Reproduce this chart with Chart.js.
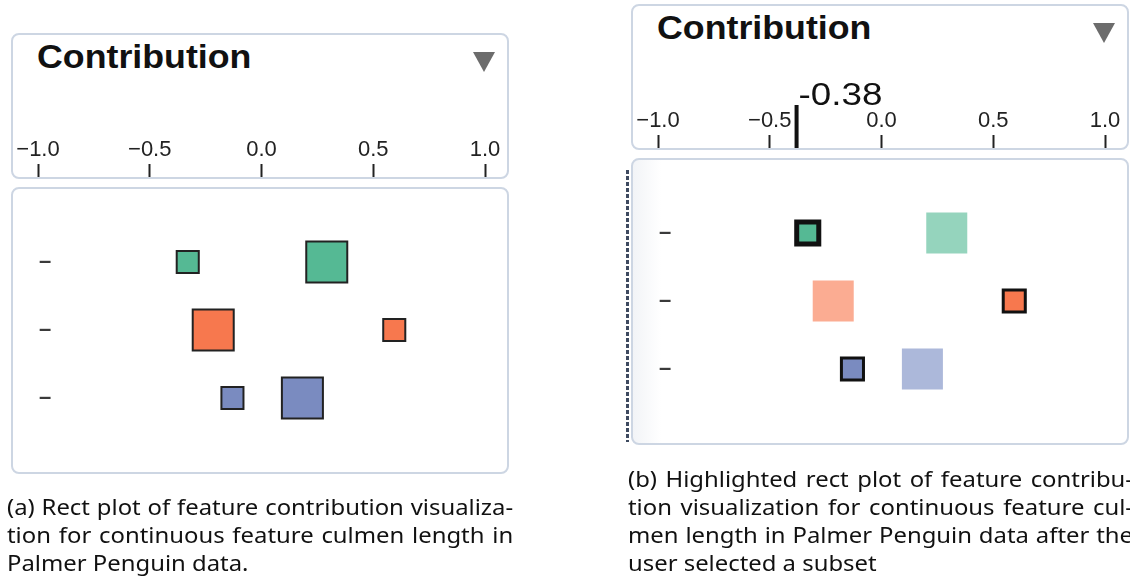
<!DOCTYPE html>
<html>
<head>
<meta charset="utf-8">
<script src="https://cdn.jsdelivr.net/npm/chart.js@4"></script>
<style>
    html, body {
        margin: 0;
        padding: 0;
        width: 1130px;
        height: 578px;
        overflow: hidden;
        background: #ffffff;
    }

    .panel {
        position: absolute;
        width: 498px;
        height: 480px;
    }

    .box {
        position: absolute;
        box-sizing: border-box;
        border: 2px solid #cdd6e3;
        border-radius: 8px;
        background: #ffffff;
    }

    .header-box {
        left: 0;
        top: 0;
        width: 498px;
        height: 146px;
    }

    .plot-box {
        left: 0;
        top: 154px;
        width: 498px;
        height: 287px;
    }

    .title {
        position: absolute;
        left: 26px;
        top: 8px;
        font-family: "Liberation Sans", Arial, sans-serif;
        font-weight: bold;
        font-size: 32.5px;
        line-height: 33px;
        color: #111111;
        transform: scaleX(1.1);
        transform-origin: left top;
    }

    .dropdown {
        position: absolute;
        left: 462px;
        top: 19px;
        width: 0;
        height: 0;
        border-left: 11.5px solid transparent;
        border-right: 11.5px solid transparent;
        border-top: 20px solid #6c6c6c;
    }

    .panel canvas {
        position: absolute;
        left: 0;
        top: 0;
    }

    .selection-edge {
        position: absolute;
        left: -5px;
        top: 166px;
        width: 3px;
        height: 272px;
        background: repeating-linear-gradient(to bottom, #3e4a60 0px, #3e4a60 4px, transparent 4px, transparent 6px);
    }

    .faded-edge {
        background: linear-gradient(to right, #f2f4f7 0px, #ffffff 28px);
    }

    .caption {
        position: absolute;
        width: 456px;
        font-family: "Noto Sans", sans-serif;
        font-size: 21.5px;
        line-height: 28px;
        color: #111111;
        transform: scaleX(1.11);
        transform-origin: left top;
    }

    .caption div {
        white-space: nowrap;
        text-align: justify;
        text-align-last: justify;
    }

    .caption div.last {
        text-align-last: left;
    }
</style>
</head>
<body>

<div class="panel" id="panelA" style="left: 11px; top: 33px;">
    <div class="box header-box"></div>
    <div class="box plot-box"></div>
    <div class="title">Contribution</div>
    <div class="dropdown"></div>
    <canvas id="chartA" width="498" height="470"></canvas>
</div>

<div class="panel" id="panelB" style="left: 631px; top: 4px;">
    <div class="box header-box"></div>
    <div class="box plot-box faded-edge"></div>
    <div class="selection-edge"></div>
    <div class="title">Contribution</div>
    <div class="dropdown"></div>
    <canvas id="chartB" width="498" height="470"></canvas>
</div>

<div class="caption" style="left: 7px; top: 493px;">
    <div>(a) Rect plot of feature contribution visualiza-</div>
    <div>tion for continuous feature culmen length in</div>
    <div class="last">Palmer Penguin data.</div>
</div>

<div class="caption" style="left: 628px; top: 465px; width: 455px;">
    <div>(b) Highlighted rect plot of feature contribu-</div>
    <div>tion visualization for continuous feature cul-</div>
    <div>men length in Palmer Penguin data after the</div>
    <div class="last">user selected a subset</div>
</div>

<script>
// one row per class
const rowLabels = ['–', '–', '–'];
const rowIndex = [1, 2, 3];
const subsetValues = [-0.33, 0.594, -0.13];   // small squares
const restValues = [0.292, -0.216, 0.183];    // large squares
const tickValues = [-1.0, -0.5, 0.0, 0.5, 1.0];
const selectedValue = -0.38;

const rowColors = ['#55b994', '#f7784e', '#7a8bc0'];
const fadedColors = ['#95d4bd', '#fbac92', '#acb8da'];

const SMALL_RADIUS = 15.6;
const LARGE_RADIUS = 29;

document.addEventListener('DOMContentLoaded', () => {
    createContributionChart('chartA', false);
    createContributionChart('chartB', true);
});

function formatTick(value) {
    return value.toFixed(1).replace('-', '\u2212');
}

function buildDatasets(highlighted) {
    return rowIndex.map((row, i) => {
        const smallBorder = highlighted ? (i === 0 ? 5 : 3) : 2;
        return {
            data: [
                { x: subsetValues[i], y: row },
                { x: restValues[i], y: row }
            ],
            pointStyle: 'rect',
            pointRadius: [SMALL_RADIUS, LARGE_RADIUS],
            backgroundColor: highlighted ? [rowColors[i], fadedColors[i]] : rowColors[i],
            borderColor: highlighted ? ['#111111', 'rgba(0,0,0,0)'] : '#222222',
            borderWidth: highlighted ? [smallBorder, 0] : 2
        };
    });
}

// thick marker with the mean of the selected subset
const selectedMarker = {
    id: 'selectedMarker',
    afterDraw: (chart) => {
        const { ctx, chartArea, scales: { x } } = chart;
        const xPos = x.getPixelForValue(selectedValue);
        const top = chartArea.top - 43;

        ctx.save();
        ctx.fillStyle = '#111111';
        ctx.fillRect(xPos - 2, top, 4, 43);

        ctx.translate(xPos + 2, top);
        ctx.scale(1.15, 1);
        ctx.font = '32px "Liberation Sans", Arial, sans-serif';
        ctx.textAlign = 'left';
        ctx.textBaseline = 'alphabetic';
        ctx.fillText(selectedValue.toFixed(2), 0, 0);
        ctx.restore();
    }
};

function createContributionChart(canvasId, highlighted) {
    const ctx = document.getElementById(canvasId);

    const config = {
        type: 'scatter',
        data: {
            datasets: buildDatasets(highlighted)
        },
        options: {
            responsive: false,
            animation: false,
            events: [],
            layout: {
                autoPadding: false,
                padding: { top: 100, left: 25, right: 24, bottom: 20 }
            },
            plugins: {
                legend: { display: false },
                tooltip: { enabled: false }
            },
            scales: {
                x: {
                    type: 'linear',
                    position: 'top',
                    min: -1,
                    max: 1,
                    afterBuildTicks: (scale) => {
                        scale.ticks = tickValues.map(v => ({ value: v }));
                    },
                    afterFit: (scale) => {
                        scale.height = 44;
                    },
                    ticks: {
                        padding: 1,
                        maxRotation: 0,
                        autoSkip: false,
                        color: '#222222',
                        font: { family: '"Liberation Sans", Arial, sans-serif', size: 22 },
                        callback: (value) => formatTick(value)
                    },
                    grid: {
                        drawOnChartArea: false,
                        drawTicks: true,
                        tickLength: 13,
                        tickWidth: 2,
                        tickColor: '#222222'
                    },
                    border: { display: false }
                },
                y: {
                    type: 'linear',
                    reverse: true,
                    min: -0.25,
                    max: 4.25,
                    afterBuildTicks: (scale) => {
                        scale.ticks = rowIndex.map(v => ({ value: v }));
                    },
                    ticks: {
                        mirror: true,
                        padding: 1,
                        color: '#3a3a3a',
                        font: { family: '"Liberation Sans", Arial, sans-serif', size: 22, weight: 'bold' },
                        callback: (value) => rowLabels[value - 1]
                    },
                    grid: { display: false, drawTicks: false },
                    border: { display: false }
                }
            }
        },
        plugins: highlighted ? [selectedMarker] : []
    };

    new Chart(ctx, config);
}
</script>
</body>
</html>
